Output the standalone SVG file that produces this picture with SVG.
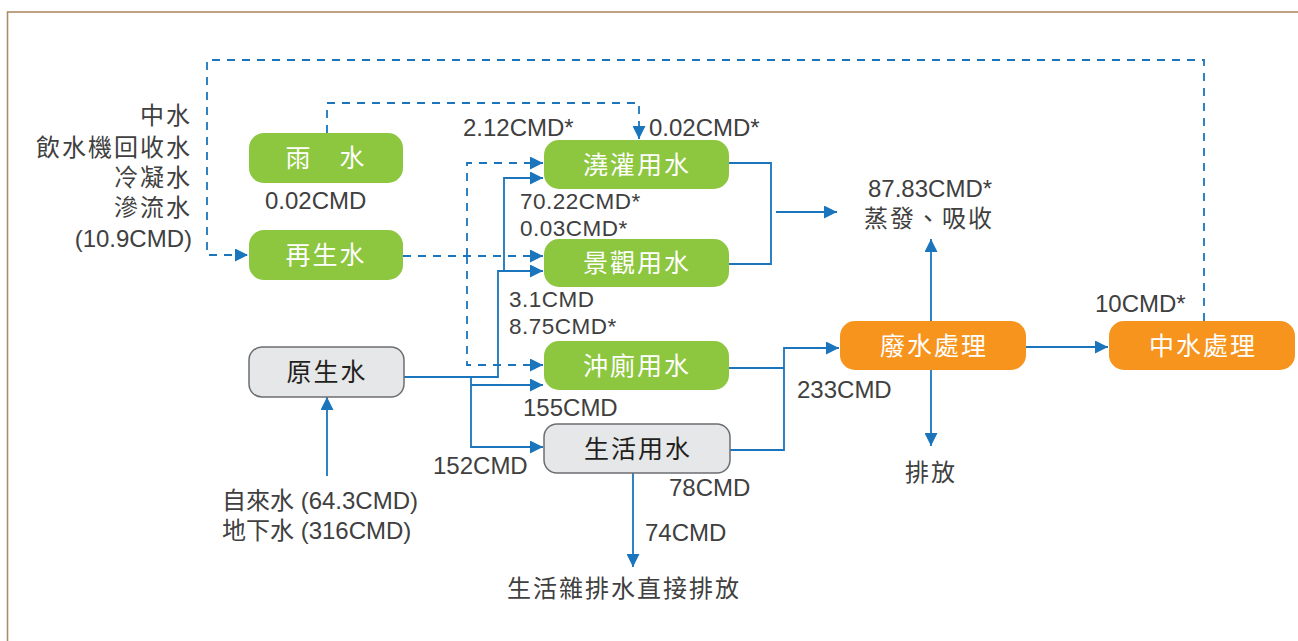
<svg xmlns="http://www.w3.org/2000/svg" width="1298" height="641" viewBox="0 0 1298 641">
<style>
text{font-family:"Liberation Sans","Noto Sans CJK TC",sans-serif;}
.t{fill:#404040;font-size:24px;}
.s{fill:#404040;font-size:22.5px;letter-spacing:0.5px;}
.c{fill:#404040;font-size:24px;letter-spacing:2px;}
.nl{fill:#ffffff;font-size:25px;letter-spacing:2px;text-anchor:middle;}
.nd{fill:#231f20;font-size:25px;letter-spacing:2px;text-anchor:middle;}
.g{fill:#8dc63f;}
.o{fill:#f7941d;}
.y{fill:#e6e7e8;stroke:#6d6e71;stroke-width:1.5;}
.l{fill:none;stroke:#1a75bc;stroke-width:1.8;}
.d{fill:none;stroke:#1a75bc;stroke-width:1.8;stroke-dasharray:8 7;}
.a{marker-end:url(#arr);}
</style>
<defs>
<marker id="arr" markerUnits="userSpaceOnUse" markerWidth="13" markerHeight="13" refX="12" refY="6" orient="auto" viewBox="0 0 12 12">
<path d="M0,0 L12,6 L0,12 z" fill="#1a75bc"/>
</marker>
</defs>
<rect x="7.5" y="12" width="1310" height="650" fill="#ffffff" stroke="#b08a66" stroke-width="1.6"/>

<g id="connectors">
<path class="d a" d="M1204,321 V60 H207 V255 H248"/>
<path class="d a" d="M327,133 V103 H639 V139"/>
<path class="d a" d="M403,256 H543"/>
<path class="d a" d="M467,256 V163 H543"/>
<path class="d a" d="M467,256 V365 H543"/>
<path class="l a" d="M404,377 H498 V271 H543"/>
<path class="l a" d="M504,271 V178 H543"/>
<path class="l a" d="M471,377 V447 H543"/>
<path class="l a" d="M471,385 H543"/>
<path class="l" d="M729,163 H771 V264 H729"/>
<path class="l a" d="M776,212 H837"/>
<path class="l" d="M729,368 H784"/>
<path class="l a" d="M729,450 H784 V348 H839"/>
<path class="l a" d="M931,321 V239"/>
<path class="l a" d="M931,370 V446"/>
<path class="l a" d="M1026,347 H1108"/>
<path class="l a" d="M327,476 V397"/>
<path class="l a" d="M633,473 V567"/>
</g>

<g id="rain">
<rect class="g" x="249" y="133" width="154" height="50" rx="15"/>
<text class="nl" x="326" y="167">雨　水</text>
</g>
<g id="recycled">
<rect class="g" x="249" y="230" width="154" height="50" rx="15"/>
<text class="nl" x="326" y="264">再生水</text>
</g>
<g id="raw">
<rect class="y" x="249" y="347" width="155" height="50" rx="13"/>
<text class="nd" x="327" y="381">原生水</text>
</g>
<g id="irrigation">
<rect class="g" x="544" y="140" width="185" height="49" rx="15"/>
<text class="nl" x="637" y="174">澆灌用水</text>
</g>
<g id="landscape">
<rect class="g" x="544" y="239" width="185" height="48" rx="15"/>
<text class="nl" x="637" y="272">景觀用水</text>
</g>
<g id="toilet">
<rect class="g" x="544" y="341" width="185" height="49" rx="15"/>
<text class="nl" x="637" y="375">沖廁用水</text>
</g>
<g id="domestic">
<rect class="y" x="544" y="424" width="186" height="49" rx="13"/>
<text class="nd" x="638" y="458">生活用水</text>
</g>
<g id="wastewater">
<rect class="o" x="840" y="321" width="186" height="49" rx="15"/>
<text class="nl" x="934" y="355">廢水處理</text>
</g>
<g id="greywater">
<rect class="o" x="1109" y="321" width="186" height="49" rx="15"/>
<text class="nl" x="1203" y="355">中水處理</text>
</g>

<g id="labels">
<text class="c" x="192" y="124" text-anchor="end">中水</text>
<text class="c" x="192" y="156" text-anchor="end">飲水機回收水</text>
<text class="c" x="192" y="186" text-anchor="end">冷凝水</text>
<text class="c" x="192" y="216" text-anchor="end">滲流水</text>
<text class="t" x="192" y="247" text-anchor="end">(10.9CMD)</text>
<text class="t" x="265" y="209">0.02CMD</text>
<text class="t" x="463" y="136">2.12CMD*</text>
<text class="t" x="649" y="136">0.02CMD*</text>
<text class="s" x="520" y="209">70.22CMD*</text>
<text class="s" x="520" y="236">0.03CMD*</text>
<text class="s" x="509" y="307">3.1CMD</text>
<text class="s" x="509" y="334">8.75CMD*</text>
<text class="t" x="523" y="416">155CMD</text>
<text class="t" x="433" y="474">152CMD</text>
<text class="t" x="669" y="496">78CMD</text>
<text class="t" x="645" y="541">74CMD</text>
<text class="c" x="507" y="597">生活雜排水直接排放</text>
<text class="t" x="222" y="509">自來水 (64.3CMD)</text>
<text class="t" x="222" y="539">地下水 (316CMD)</text>
<text class="t" x="868" y="197">87.83CMD*</text>
<text class="c" x="864" y="227">蒸發、吸收</text>
<text class="t" x="797" y="398">233CMD</text>
<text class="c" x="905" y="481">排放</text>
<text class="t" x="1095" y="312">10CMD*</text>
</g>
</svg>
